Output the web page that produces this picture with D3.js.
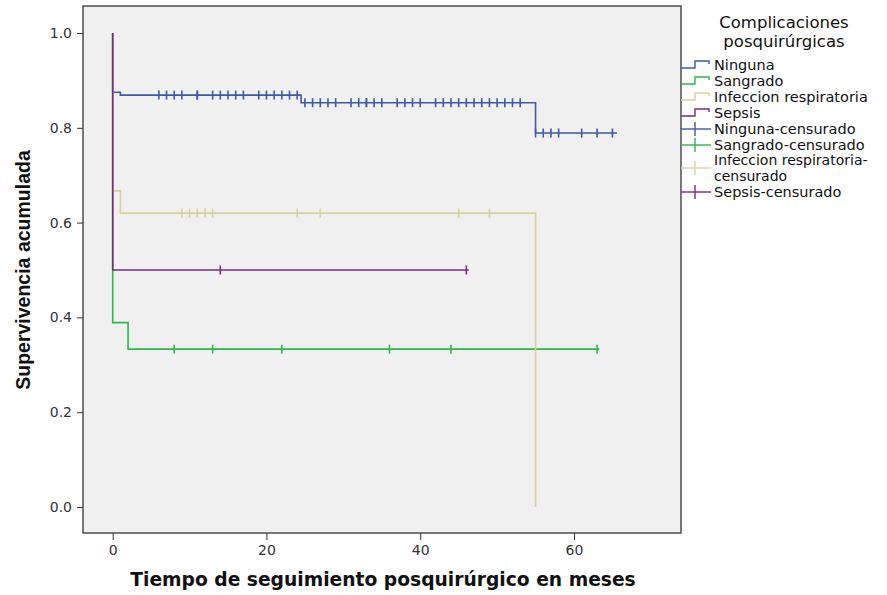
<!DOCTYPE html>
<html>
<head>
	<meta charset="utf-8">
	<title>Supervivencia acumulada</title>
	<script src="https://cdn.jsdelivr.net/npm/d3@7"></script>
	<style>
		body { margin: 0; background: #fff; }
		.tick text { font-family: "DejaVu Sans"; font-size: 14px; fill: #333; }
		.legend text { font-family: "DejaVu Sans"; fill: #111; }
	</style>
</head>
<body>
<div id="chart"></div>
<script>
	// datos (meses, supervivencia acumulada)
	var grupos = ["Ninguna", "Sangrado", "Infeccion respiratoria", "Sepsis"];
	var colores = ["#3e58ac", "#2eb848", "#d8d39c", "#7c287d"];

	var ningunaTiempos = [0, 1, 24.5, 55];
	var ningunaSuperv = [0.875, 0.869, 0.853, 0.789];
	var ningunaCensura = [6, 7, 8, 9, 11, 11, 13, 14, 15, 16, 17, 19, 20, 21, 22, 23, 24,
		25, 26, 27, 28, 29, 31, 32, 33, 33, 34, 35, 37, 38, 39, 40, 42, 43, 44, 45, 46, 47, 48, 49, 50, 51, 52, 53,
		55, 56, 57, 58, 61, 63, 65];
	var ningunaFin = 65.6;

	var sangradoTiempos = [0, 2];
	var sangradoSuperv = [0.389, 0.333];
	var sangradoCensura = [8, 13, 22, 36, 44, 63];
	var sangradoFin = 63.3;

	var infeccionTiempos = [0, 1, 55];
	var infeccionSuperv = [0.667, 0.62, 0];
	var infeccionCensura = [9, 10, 11, 12, 13, 24, 27, 45, 49];
	var infeccionFin = 55;

	var sepsisTiempos = [0];
	var sepsisSuperv = [0.5];
	var sepsisCensura = [14, 46];
	var sepsisFin = 46.3;

	var xTicks = [0, 20, 40, 60];
	var yTicks = [0, 0.2, 0.4, 0.6, 0.8, 1.0];

	var curvas = [
		{tiempos: ningunaTiempos, superv: ningunaSuperv, censura: ningunaCensura, fin: ningunaFin},
		{tiempos: sangradoTiempos, superv: sangradoSuperv, censura: sangradoCensura, fin: sangradoFin},
		{tiempos: infeccionTiempos, superv: infeccionSuperv, censura: infeccionCensura, fin: infeccionFin},
		{tiempos: sepsisTiempos, superv: sepsisSuperv, censura: sepsisCensura, fin: sepsisFin}
	];

	var w = 887, h = 595;
	var plot = {left: 83, top: 6, right: 681, bottom: 533};

	var svg = d3.select("#chart").append("svg")
		.attr("width", w)
		.attr("height", h);

	var x = d3.scaleLinear().domain([0, 60]).range([112.7, 574]);
	var y = d3.scaleLinear().domain([0, 1]).range([507, 33]);

	// fondo del area del grafico
	svg.append("rect")
		.attr("x", plot.left)
		.attr("y", plot.top)
		.attr("width", plot.right - plot.left)
		.attr("height", plot.bottom - plot.top)
		.attr("fill", "#f0f0f0")
		.attr("stroke", "#333")
		.attr("stroke-width", 1.3);

	// ejes
	svg.append("g")
		.attr("transform", "translate(0," + plot.bottom + ")")
		.call(d3.axisBottom(x).tickValues(xTicks).tickSize(7).tickPadding(5).tickFormat(d3.format("d")))
		.call(function(g){ g.select(".domain").remove(); g.selectAll("line").attr("stroke", "#333"); });

	svg.append("g")
		.attr("transform", "translate(" + plot.left + ",0)")
		.call(d3.axisLeft(y).tickValues(yTicks).tickSize(6).tickPadding(5).tickFormat(d3.format(".1f")))
		.call(function(g){ g.select(".domain").remove(); g.selectAll("line").attr("stroke", "#333"); });

	// titulos de los ejes
	svg.append("text")
		.attr("x", 383)
		.attr("y", 586)
		.attr("text-anchor", "middle")
		.attr("font-family", "DejaVu Sans")
		.attr("font-weight", "bold")
		.attr("font-size", 18.7)
		.attr("fill", "#111")
		.text("Tiempo de seguimiento posquirúrgico en meses");

	svg.append("text")
		.attr("transform", "translate(30,270) rotate(-90)")
		.attr("text-anchor", "middle")
		.attr("font-family", "Liberation Sans")
		.attr("font-weight", "bold")
		.attr("font-size", 19.5)
		.attr("fill", "#111")
		.text("Supervivencia acumulada");

	// curvas escalonadas de Kaplan-Meier
	function puntosCurva(c) {
		var pts = [[0, 1]];
		var actual = 1;
		c.tiempos.forEach(function(t, i){
			pts.push([t, actual]);
			actual = c.superv[i];
			pts.push([t, actual]);
		});
		pts.push([c.fin, actual]);
		return pts;
	}

	function valorEn(c, t) {
		var v = 1;
		c.tiempos.forEach(function(ti, i){ if (ti <= t) v = c.superv[i]; });
		return v;
	}

	var linea = d3.line().x(function(d){ return x(d[0]); }).y(function(d){ return y(d[1]); });

	curvas.forEach(function(c, i){
		var g = svg.append("g");
		g.append("path")
			.attr("d", linea(puntosCurva(c)))
			.attr("fill", "none")
			.attr("stroke", colores[i])
			.attr("stroke-width", 1.6);
		g.selectAll("line")
			.data(c.censura)
			.enter()
			.append("line")
			.attr("x1", function(d){ return x(d); })
			.attr("x2", function(d){ return x(d); })
			.attr("y1", function(d){ return y(valorEn(c, d)) - 4.5; })
			.attr("y2", function(d){ return y(valorEn(c, d)) + 4.5; })
			.attr("stroke", colores[i])
			.attr("stroke-width", 1.6);
	});

	// leyenda
	var leyenda = svg.append("g").attr("class", "legend");
	leyenda.append("text")
		.attr("x", 784).attr("y", 28)
		.attr("text-anchor", "middle")
		.style("font-size", "16.5px")
		.text("Complicaciones");
	leyenda.append("text")
		.attr("x", 784).attr("y", 47)
		.attr("text-anchor", "middle")
		.style("font-size", "16.5px")
		.text("posquirúrgicas");

	var entradas = [
		{lineas: ["Ninguna"], cy: 65, tipo: "paso", col: 0},
		{lineas: ["Sangrado"], cy: 81, tipo: "paso", col: 1},
		{lineas: ["Infeccion respiratoria"], cy: 97, tipo: "paso", col: 2},
		{lineas: ["Sepsis"], cy: 113, tipo: "paso", col: 3},
		{lineas: ["Ninguna-censurado"], cy: 129, tipo: "cruz", col: 0},
		{lineas: ["Sangrado-censurado"], cy: 145, tipo: "cruz", col: 1},
		{lineas: ["Infeccion respiratoria-", "censurado"], cy: 168, tipo: "cruz", col: 2},
		{lineas: ["Sepsis-censurado"], cy: 192, tipo: "cruz", col: 3}
	];

	entradas.forEach(function(e){
		var color = colores[e.col];
		if (e.tipo == "paso") {
			leyenda.append("path")
				.attr("d", "M681," + (e.cy + 3) + "H695V" + (e.cy - 4) + "H709V" + (e.cy - 1))
				.attr("fill", "none")
				.attr("stroke", color)
				.attr("stroke-width", 1.4);
		}
		else {
			leyenda.append("line")
				.attr("x1", 681).attr("x2", 711)
				.attr("y1", e.cy).attr("y2", e.cy)
				.attr("stroke", color).attr("stroke-width", 1.4);
			leyenda.append("line")
				.attr("x1", 695).attr("x2", 695)
				.attr("y1", e.cy - 7).attr("y2", e.cy + 7)
				.attr("stroke", color).attr("stroke-width", 1.4);
		}
		var n = e.lineas.length;
		e.lineas.forEach(function(t, k){
			leyenda.append("text")
				.attr("x", 714)
				.attr("y", e.cy + 5 + (k - (n - 1) / 2) * 15.5)
				.style("font-size", n > 1 ? "14px" : "14.5px")
				.text(t);
		});
	});
</script>
</body>
</html>
